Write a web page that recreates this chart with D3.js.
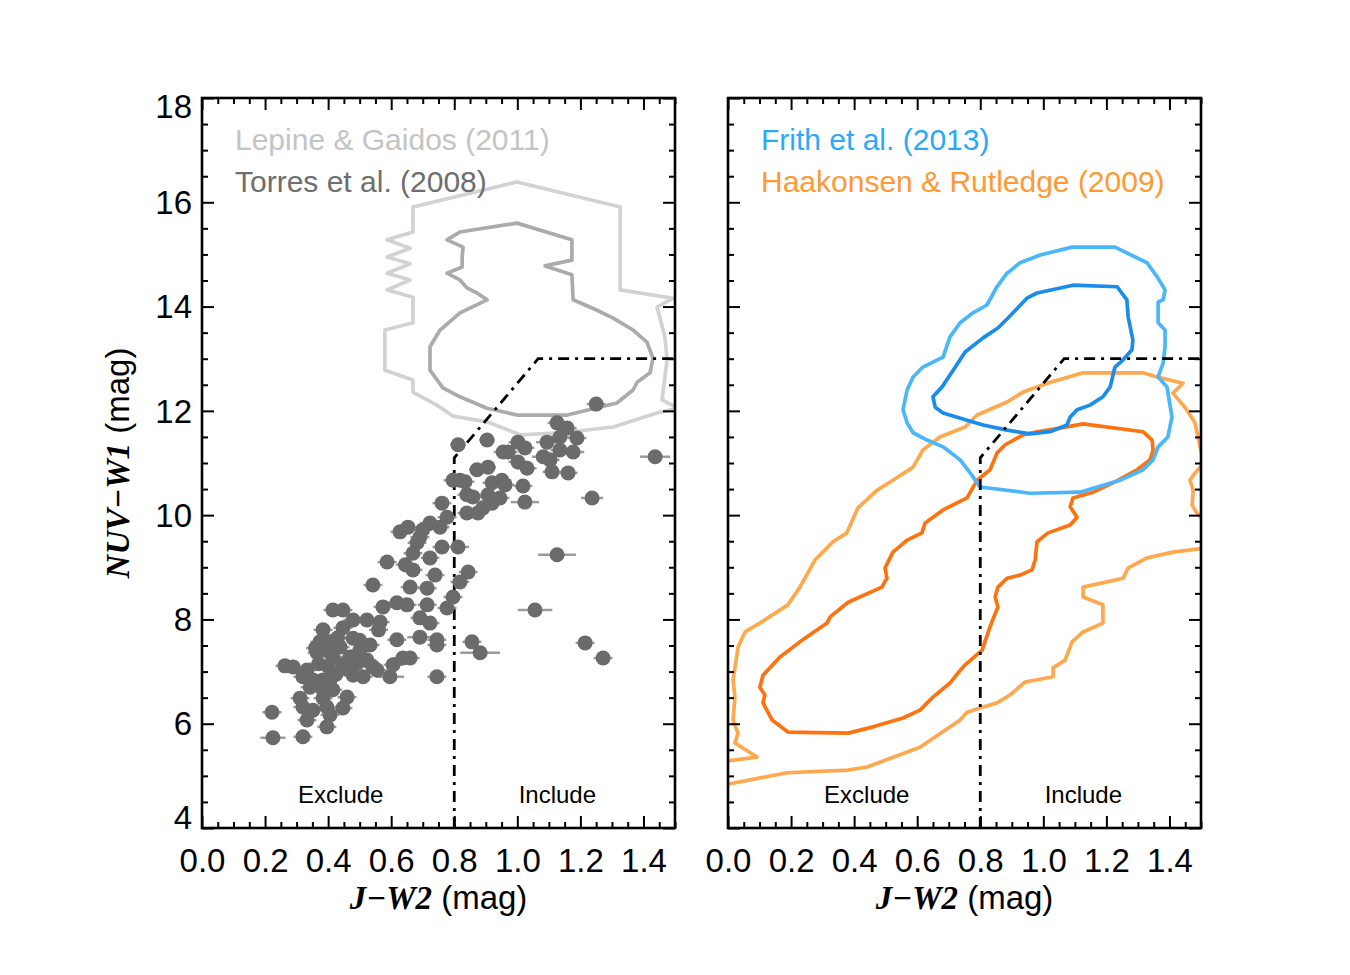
<!DOCTYPE html>
<html><head><meta charset="utf-8">
<script src="https://cdn.jsdelivr.net/npm/d3@7"></script>
<style>body{margin:0;background:#fff}</style>
</head><body>
<svg id="c" width="1350" height="975"></svg>
<script>
// ---------- data ----------
const xTickValues = [0.0, 0.2, 0.4, 0.6, 0.8, 1.0, 1.2, 1.4];
const yTickValues = [4, 6, 8, 10, 12, 14, 16, 18];
const xDomain = [0, 1.5];
const yDomain = [4, 18];

const legendLeft = ["Lepine & Gaidos (2011)", "Torres et al. (2008)"];
const legendRight = ["Frith et al. (2013)", "Haakonsen & Rutledge (2009)"];
const regionLabels = ["Exclude", "Include"];

// selection boundary (J-W2, NUV-W1)
const cutLine = [[0.8, 4], [0.8, 11.1], [1.066, 13.0], [1.5, 13.0]];

// Lepine & Gaidos (2011) contours
const lepineOuter = [[0.669,15.91],[0.999,16.39],[1.326,15.91],[1.326,14.32],[1.494,14.16],[1.443,13.99],[1.468,13.42],[1.475,12.98],[1.459,12.21],[1.51,12.05],[1.443,11.96],[1.304,11.69],[1.145,11.58],[1.009,11.54],[0.904,11.79],[0.796,11.90],[0.745,12.11],[0.669,12.36],[0.669,12.59],[0.580,12.78],[0.580,13.55],[0.669,13.69],[0.669,14.18],[0.587,14.32],[0.660,14.51],[0.587,14.64],[0.660,14.82],[0.587,14.95],[0.660,15.12],[0.587,15.28],[0.669,15.43]];
const lepineInner = [[0.777,15.28],[0.818,15.43],[0.999,15.60],[1.173,15.28],[1.173,14.89],[1.088,14.78],[1.173,14.61],[1.177,14.13],[1.253,13.93],[1.304,13.78],[1.367,13.55],[1.411,13.32],[1.430,13.01],[1.421,12.73],[1.380,12.55],[1.367,12.40],[1.316,12.15],[1.158,11.92],[0.999,11.92],[0.904,12.05],[0.818,12.27],[0.764,12.44],[0.723,12.78],[0.723,13.23],[0.755,13.55],[0.818,13.88],[0.904,14.13],[0.872,14.26],[0.840,14.36],[0.818,14.51],[0.777,14.64],[0.825,14.76],[0.825,14.95],[0.828,15.14]];

// Torres et al. (2008) members: [J-W2, NUV-W1, sigma(J-W2)]
const torres = [[1.250,12.13,0.03],[1.437,11.12,0.048],[0.812,11.35,0.025],[0.904,11.44,0.025],[1.126,11.77,0.03],[1.158,11.67,0.03],[1.189,11.48,0.03],[1.094,11.40,0.035],[1.135,11.50,0.03],[1.002,11.40,0.03],[1.024,11.29,0.03],[0.955,11.21,0.03],[0.971,11.21,0.03],[1.135,11.25,0.03],[1.177,11.21,0.035],[1.082,11.12,0.035],[1.104,11.06,0.03],[1.002,11.02,0.03],[1.031,10.90,0.03],[1.110,10.83,0.03],[1.161,10.81,0.03],[0.872,10.87,0.025],[0.907,10.92,0.025],[0.818,10.67,0.03],[0.796,10.67,0.03],[0.834,10.64,0.03],[0.920,10.62,0.03],[0.951,10.67,0.03],[0.961,10.58,0.03],[1.018,10.56,0.03],[0.840,10.39,0.03],[0.859,10.35,0.03],[0.907,10.39,0.03],[0.945,10.33,0.03],[0.920,10.23,0.03],[1.024,10.25,0.045],[0.840,10.04,0.03],[0.875,10.04,0.03],[0.891,10.14,0.03],[1.237,10.33,0.035],[0.812,9.39,0.035],[1.126,9.24,0.06],[0.844,8.91,0.03],[0.818,8.72,0.03],[0.796,8.43,0.03],[1.056,8.18,0.055],[0.856,7.57,0.03],[0.882,7.36,0.063],[1.215,7.55,0.03],[1.272,7.26,0.03],[0.761,10.23,0.03],[0.777,9.96,0.03],[0.723,9.85,0.03],[0.755,9.77,0.03],[0.628,9.68,0.03],[0.653,9.77,0.03],[0.691,9.58,0.03],[0.682,9.47,0.03],[0.669,9.27,0.03],[0.723,9.18,0.03],[0.761,9.39,0.03],[0.587,9.10,0.03],[0.542,8.66,0.03],[0.669,8.95,0.03],[0.739,8.85,0.03],[0.660,8.62,0.03],[0.714,8.60,0.03],[0.618,8.32,0.03],[0.650,8.28,0.03],[0.574,8.24,0.03],[0.714,8.28,0.03],[0.777,8.22,0.03],[0.415,8.18,0.03],[0.447,8.18,0.03],[0.479,7.99,0.03],[0.523,7.99,0.03],[0.565,7.95,0.03],[0.691,8.03,0.03],[0.723,7.93,0.03],[0.384,7.80,0.03],[0.447,7.84,0.03],[0.479,7.64,0.03],[0.374,7.57,0.03],[0.406,7.57,0.03],[0.438,7.47,0.03],[0.533,7.51,0.03],[0.618,7.61,0.03],[0.691,7.66,0.04],[0.745,7.61,0.03],[0.745,7.51,0.03],[0.365,7.36,0.03],[0.415,7.28,0.03],[0.469,7.28,0.03],[0.492,7.16,0.03],[0.523,7.22,0.03],[0.542,7.09,0.03],[0.606,7.13,0.03],[0.637,7.26,0.03],[0.660,7.26,0.03],[0.263,7.11,0.03],[0.289,7.09,0.03],[0.333,7.03,0.03],[0.447,7.13,0.03],[0.479,6.93,0.03],[0.511,6.90,0.03],[0.555,7.03,0.03],[0.596,6.90,0.045],[0.745,6.90,0.03],[0.320,6.90,0.03],[0.352,6.84,0.03],[0.384,6.84,0.03],[0.343,6.70,0.03],[0.406,6.84,0.03],[0.415,6.65,0.03],[0.460,6.51,0.03],[0.384,6.65,0.03],[0.311,6.49,0.03],[0.384,6.49,0.03],[0.447,6.30,0.03],[0.320,6.32,0.03],[0.352,6.26,0.03],[0.396,6.32,0.03],[0.406,6.17,0.03],[0.222,6.22,0.03],[0.333,6.07,0.03],[0.396,5.94,0.03],[0.225,5.73,0.04],[0.320,5.75,0.03],[0.360,7.45,0.03],[0.400,7.40,0.03],[0.430,7.65,0.03],[0.500,7.40,0.03],[0.460,7.05,0.03],[0.400,7.10,0.03],[0.370,7.15,0.03],[0.425,6.95,0.03],[0.500,7.60,0.03],[0.560,7.80,0.03],[0.700,9.72,0.03],[0.645,9.05,0.03]];

// Frith et al. (2013) contours
const frithOuter = [[1.091,15.14],[1.227,15.14],[1.329,14.84],[1.361,14.57],[1.386,14.32],[1.380,14.13],[1.364,14.09],[1.364,13.69],[1.386,13.55],[1.386,13.23],[1.380,12.92],[1.364,12.65],[1.392,12.46],[1.408,11.88],[1.395,11.50],[1.364,11.31],[1.348,11.06],[1.316,10.87],[1.243,10.67],[1.116,10.44],[0.958,10.42],[0.799,10.54],[0.768,10.81],[0.736,11.06],[0.682,11.31],[0.631,11.44],[0.587,11.58],[0.568,11.77],[0.555,12.02],[0.568,12.40],[0.587,12.65],[0.618,12.84],[0.682,13.03],[0.704,13.42],[0.736,13.69],[0.777,13.88],[0.821,14.03],[0.853,14.38],[0.885,14.64],[0.926,14.84],[0.990,14.99]];
const frithInner = [[1.094,14.41],[1.234,14.38],[1.265,14.13],[1.269,13.80],[1.284,13.36],[1.281,13.17],[1.253,12.98],[1.227,12.84],[1.212,12.46],[1.189,12.27],[1.148,12.11],[1.107,12.02],[1.085,11.88],[1.075,11.73],[1.021,11.60],[0.958,11.56],[0.885,11.63],[0.809,11.73],[0.758,11.82],[0.682,11.96],[0.657,12.07],[0.650,12.27],[0.679,12.46],[0.714,12.78],[0.752,13.13],[0.809,13.40],[0.856,13.59],[0.888,13.78],[0.948,14.16],[0.980,14.26]];

// Haakonsen & Rutledge (2009) contours
const haakOuter = [[1.126,12.73],[1.316,12.73],[1.361,12.65],[1.443,12.53],[1.411,12.34],[1.449,12.07],[1.481,11.77],[1.497,11.31],[1.510,11.00],[1.481,10.81],[1.465,10.67],[1.475,10.48],[1.472,10.19],[1.487,10.04],[1.516,9.87],[1.516,9.37],[1.411,9.29],[1.329,9.18],[1.269,8.99],[1.253,8.79],[1.126,8.62],[1.126,8.43],[1.189,8.28],[1.189,7.93],[1.126,7.76],[1.091,7.57],[1.069,7.22],[1.031,7.07],[1.031,6.90],[0.942,6.80],[0.894,6.55],[0.853,6.40],[0.799,6.30],[0.758,6.22],[0.736,6.07],[0.609,5.55],[0.441,5.17],[0.381,5.11],[0.187,5.06],[-0.019,4.82],[-0.019,5.27],[0.092,5.36],[0.022,5.63],[0.032,5.82],[0.016,6.07],[0.022,6.51],[0.016,6.84],[0.032,7.47],[0.054,7.76],[0.101,7.93],[0.190,8.28],[0.228,8.62],[0.276,9.14],[0.333,9.49],[0.377,9.66],[0.412,10.14],[0.473,10.48],[0.523,10.67],[0.587,10.92],[0.618,11.25],[0.672,11.50],[0.752,11.69],[0.790,11.92],[0.885,12.17],[0.936,12.36],[1.012,12.53]];
const haakInner = [[0.190,5.84],[0.381,5.82],[0.460,5.94],[0.555,6.11],[0.609,6.26],[0.650,6.51],[0.704,6.78],[0.729,6.97],[0.752,7.13],[0.806,7.41],[0.831,7.86],[0.856,8.24],[0.847,8.43],[0.856,8.62],[0.885,8.79],[0.926,8.85],[0.964,8.95],[0.974,9.14],[0.980,9.49],[1.015,9.66],[1.085,9.81],[1.107,9.96],[1.085,10.16],[1.094,10.33],[1.158,10.44],[1.221,10.62],[1.297,10.87],[1.338,11.06],[1.348,11.25],[1.345,11.44],[1.316,11.60],[1.126,11.75],[1.053,11.67],[0.980,11.60],[0.936,11.54],[0.879,11.35],[0.853,11.19],[0.831,10.87],[0.790,10.67],[0.758,10.33],[0.682,10.10],[0.625,9.85],[0.615,9.66],[0.568,9.52],[0.523,9.29],[0.498,8.99],[0.504,8.79],[0.488,8.62],[0.381,8.33],[0.324,8.05],[0.314,7.93],[0.228,7.57],[0.165,7.28],[0.111,6.93],[0.101,6.70],[0.117,6.55],[0.111,6.40],[0.140,6.07]];

// ---------- style ----------
const SANS = "'Liberation Sans', Arial, Helvetica, sans-serif";
const SERIF = "'Liberation Serif', 'Times New Roman', serif";
const COL = {
  lepOuter: "#d2d2d2", lepInner: "#ababab", lepText: "#c4c4c4",
  torres: "#6b6b6b", torresText: "#6e6e6e", err: "#9c9c9c",
  frOuter: "#4ab6fb", frInner: "#1a8ceb", frText: "#2aa9f6",
  hkOuter: "#ffa84e", hkInner: "#ff7210", hkText: "#ff9a33"
};

const svg = d3.select("#c");
const plotTop = 98, plotBottom = 828;
const y = d3.scaleLinear().domain(yDomain).range([plotBottom, plotTop]);
const panels = [
  { x0: 202, x1: 675, id: "L", yLabels: true },
  { x0: 728, x1: 1201, id: "R", yLabels: false }
];
panels.forEach(p => { p.x = d3.scaleLinear().domain(xDomain).range([p.x0, p.x1]); });

const minorX = d3.range(0, 1.5001, 0.05).filter(v => Math.abs(v / 0.2 - Math.round(v / 0.2)) > 1e-6);
const minorY = d3.range(4, 18.001, 0.5).filter(v => Math.abs(v / 2 - Math.round(v / 2)) > 1e-6);

const line = (x) => d3.line().x(d => x(d[0])).y(d => y(d[1]));
const closedLine = (x) => d3.line().x(d => x(d[0])).y(d => y(d[1])).curve(d3.curveLinearClosed);

function drawPanel(p) {
  const g = svg.append("g");
  svg.append("clipPath").attr("id", "clip" + p.id)
    .append("rect").attr("x", p.x0).attr("y", plotTop).attr("width", p.x1 - p.x0).attr("height", plotBottom - plotTop);
  const plot = g.append("g").attr("clip-path", `url(#clip${p.id})`);
  return { g, plot };
}

function drawAxes(p, g) {
  const x = p.x;
  const MAJ = 12, MIN = 6;
  const style = sel => {
    sel.select(".domain").remove();
    sel.selectAll(".tick line").attr("stroke", "#000").attr("stroke-width", 2);
    sel.selectAll(".tick text").attr("fill", "#000").style("font-family", SANS).style("font-size", "33px");
  };
  g.append("g").attr("transform", `translate(0,${plotBottom})`)
    .call(d3.axisBottom(x).tickValues(xTickValues).tickSize(-MAJ).tickSizeOuter(0).tickPadding(21).tickFormat(d3.format(".1f")))
    .call(style);
  g.append("g").attr("transform", `translate(0,${plotBottom})`)
    .call(d3.axisBottom(x).tickValues(minorX).tickSize(-MIN).tickSizeOuter(0).tickFormat(""))
    .call(style);
  g.append("g").attr("transform", `translate(0,${plotTop})`)
    .call(d3.axisTop(x).tickValues(xTickValues).tickSize(-MAJ).tickSizeOuter(0).tickFormat(""))
    .call(style);
  g.append("g").attr("transform", `translate(0,${plotTop})`)
    .call(d3.axisTop(x).tickValues(minorX).tickSize(-MIN).tickSizeOuter(0).tickFormat(""))
    .call(style);
  const yl = g.append("g").attr("transform", `translate(${p.x0},0)`)
    .call(d3.axisLeft(y).tickValues(yTickValues).tickSize(-MAJ).tickSizeOuter(0).tickPadding(10)
      .tickFormat(p.yLabels ? d3.format("d") : ""))
    .call(style);
  if (p.yLabels) {
    yl.selectAll(".tick text").attr("dy", d => d === 18 ? "0.6em" : d === 4 ? "0em" : "0.34em");
  }
  g.append("g").attr("transform", `translate(${p.x0},0)`)
    .call(d3.axisLeft(y).tickValues(minorY).tickSize(-MIN).tickSizeOuter(0).tickFormat(""))
    .call(style);
  g.append("g").attr("transform", `translate(${p.x1},0)`)
    .call(d3.axisRight(y).tickValues(yTickValues).tickSize(-MAJ).tickSizeOuter(0).tickFormat(""))
    .call(style);
  g.append("g").attr("transform", `translate(${p.x1},0)`)
    .call(d3.axisRight(y).tickValues(minorY).tickSize(-MIN).tickSizeOuter(0).tickFormat(""))
    .call(style);
  g.append("rect").attr("x", p.x0).attr("y", plotTop).attr("width", p.x1 - p.x0).attr("height", plotBottom - plotTop)
    .attr("fill", "none").attr("stroke", "#000").attr("stroke-width", 2.6);
  const xt = g.append("text").attr("x", (p.x0 + p.x1) / 2).attr("y", 909).attr("text-anchor", "middle")
    .style("font-family", SANS).style("font-size", "33px").attr("fill", "#000");
  xt.append("tspan").style("font-family", SERIF).style("font-weight", "bold").style("font-style", "italic").text("J\u2212W2");
  xt.append("tspan").text(" (mag)");
}

function drawCut(p, layer) {
  layer.append("path").datum(cutLine).attr("d", line(p.x)).attr("fill", "none")
    .attr("stroke", "#000").attr("stroke-width", 2.8).attr("stroke-dasharray", "11,6,3,6");
}

function regionText(p, g) {
  const x = p.x;
  g.append("text").attr("x", x(0.44)).attr("y", 803).attr("text-anchor", "middle")
    .style("font-family", SANS).style("font-size", "24px").text(regionLabels[0]);
  g.append("text").attr("x", x(1.127)).attr("y", 803).attr("text-anchor", "middle")
    .style("font-family", SANS).style("font-size", "24px").text(regionLabels[1]);
}

function contour(layer, p, data, color) {
  layer.append("path").datum(data).attr("d", closedLine(p.x)).attr("fill", "none")
    .attr("stroke", color).attr("stroke-width", 3.7).attr("stroke-linejoin", "round");
}

// ----- left panel -----
const L = panels[0];
const l = drawPanel(L);
contour(l.plot, L, lepineOuter, COL.lepOuter);
contour(l.plot, L, lepineInner, COL.lepInner);
drawCut(L, l.plot);
l.plot.append("g").selectAll("line").data(torres).join("line")
  .attr("x1", d => L.x(d[0] - d[2])).attr("x2", d => L.x(d[0] + d[2]))
  .attr("y1", d => y(d[1])).attr("y2", d => y(d[1]))
  .attr("stroke", COL.err).attr("stroke-width", 2.5);
l.plot.append("g").selectAll("circle").data(torres).join("circle")
  .attr("cx", d => L.x(d[0])).attr("cy", d => y(d[1])).attr("r", 7.5)
  .attr("fill", COL.torres);
drawAxes(L, l.g);
regionText(L, l.g);
l.g.append("text").attr("x", 235).attr("y", 150).style("font-family", SANS).style("font-size", "30px")
  .attr("fill", COL.lepText).text(legendLeft[0]);
l.g.append("text").attr("x", 235).attr("y", 192).style("font-family", SANS).style("font-size", "30px")
  .attr("fill", COL.torresText).text(legendLeft[1]);

const yt = svg.append("text").attr("transform", `translate(129,${(plotTop + plotBottom) / 2}) rotate(-90)`)
  .attr("text-anchor", "middle").style("font-family", SANS).style("font-size", "33px");
yt.append("tspan").style("font-family", SERIF).style("font-weight", "bold").style("font-style", "italic").text("NUV\u2212W1");
yt.append("tspan").text(" (mag)");

// ----- right panel -----
const R = panels[1];
const r = drawPanel(R);
contour(r.plot, R, haakOuter, COL.hkOuter);
contour(r.plot, R, haakInner, COL.hkInner);
contour(r.plot, R, frithOuter, COL.frOuter);
contour(r.plot, R, frithInner, COL.frInner);
drawCut(R, r.plot);
drawAxes(R, r.g);
regionText(R, r.g);
r.g.append("text").attr("x", 761).attr("y", 150).style("font-family", SANS).style("font-size", "30px")
  .attr("fill", COL.frText).text(legendRight[0]);
r.g.append("text").attr("x", 761).attr("y", 192).style("font-family", SANS).style("font-size", "30px")
  .attr("fill", COL.hkText).text(legendRight[1]);
</script>
</body></html>
